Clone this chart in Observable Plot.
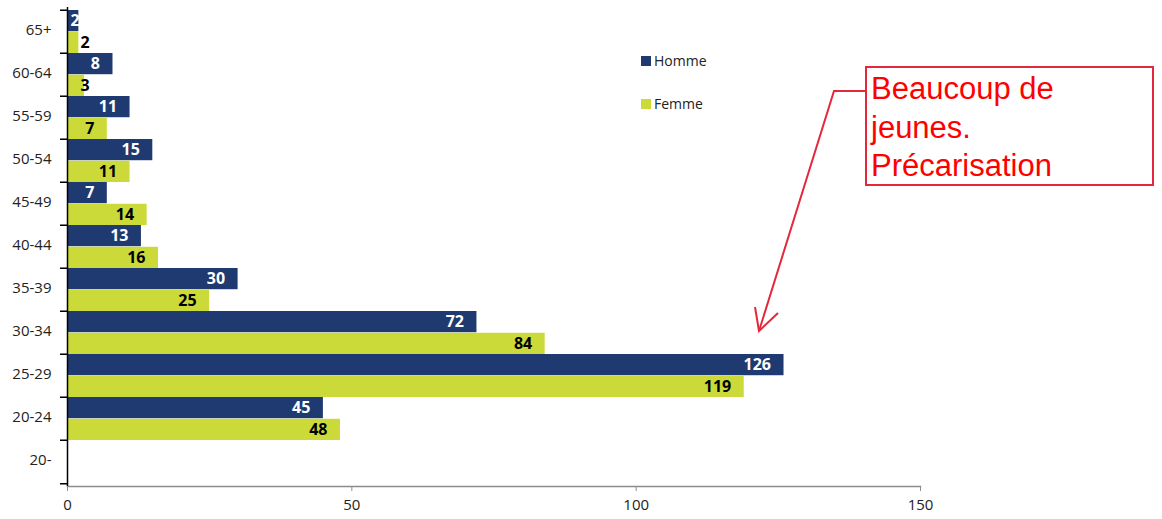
<!DOCTYPE html>
<html>
<head>
<meta charset="utf-8">
<script src="https://cdn.jsdelivr.net/npm/d3@7"></script>
<script src="https://cdn.jsdelivr.net/npm/@observablehq/plot@0.6"></script>
<style>
  html, body { margin: 0; padding: 0; background: #fff; }
  #chart svg { display: block; }
</style>
</head>
<body>
<div id="chart"></div>
<script>
const ages = ["65+","60-64","55-59","50-54","45-49","40-44","35-39","30-34","25-29","20-24","20-"];
const homme = [2, 8, 11, 15, 7, 13, 30, 72, 126, 45, null];
const femme = [2, 3, 7, 11, 14, 16, 25, 84, 119, 48, null];
const xTicks = [0, 50, 100, 150];
const series = ["Homme", "Femme"];
const colors = ["#1f3a70", "#cbda38"];
const note = ["Beaucoup de", "jeunes.", "Précarisation"];

const rowsH = ages.map((a, i) => ({age: a, value: homme[i]})).filter(d => d.value != null);
const rowsF = ages.map((a, i) => ({age: a, value: femme[i]})).filter(d => d.value != null);

const W = 1162, H = 519;
const mTop = 7, mBottom = 33, mLeft = 67, mRight = 242;
const bandH = (H - mTop - mBottom) / ages.length;
const half = bandH / 2;

function annotation() {
  const g = d3.create("svg:g").attr("text-anchor", "start");
  // legend
  series.forEach((s, i) => {
    const yy = 56 + i * 43;
    g.append("rect").attr("x", 641).attr("y", yy).attr("width", 10).attr("height", 10).attr("fill", colors[i]);
    g.append("text").attr("x", 654).attr("y", yy + 5).attr("dy", "0.35em")
      .attr("text-anchor", "start")
      .attr("font-size", 14).attr("fill", "#222").attr("font-family", "Open Sans").text(s);
  });
  // note box
  const red = "#e4283c";
  g.append("rect").attr("x", 866).attr("y", 67).attr("width", 287).attr("height", 118)
    .attr("fill", "white").attr("stroke", red).attr("stroke-width", 2);
  note.forEach((t, i) => {
    g.append("text").attr("x", 871).attr("y", 99 + i * 38.5)
      .attr("text-anchor", "start")
      .attr("font-family", "Liberation Sans, Arial, sans-serif").attr("font-size", 31)
      .attr("fill", "#ff0000").text(t);
  });
  // arrow
  g.append("path").attr("d", "M866,91 L834,91 L759,331")
    .attr("fill", "none").attr("stroke", red).attr("stroke-width", 2);
  g.append("path").attr("d", "M755,307 L759,331 L778,313")
    .attr("fill", "none").attr("stroke", red).attr("stroke-width", 2);
  return g.node();
}

const chart = Plot.plot({
  width: W,
  height: H,
  marginTop: mTop,
  marginBottom: mBottom,
  marginLeft: mLeft,
  marginRight: mRight,
  style: {fontFamily: "Open Sans", background: "white", overflow: "visible"},
  x: {domain: [0, 150], ticks: xTicks, label: null},
  y: {domain: ages, paddingInner: 0, paddingOuter: 0, label: null},
  marks: [
    Plot.barX(rowsH, {x: "value", y: "age", fill: colors[0], insetBottom: half, insetTop: 0}),
    Plot.barX(rowsF, {x: "value", y: "age", fill: colors[1], insetTop: half, insetBottom: 0}),
    // value labels
    Plot.text(rowsH.filter(d => d.value >= 5), {x: "value", y: "age", text: d => String(d.value), textAnchor: "end", dx: -13, dy: -half / 2, fill: "white", fontWeight: "bold", fontSize: 16}),
    Plot.text(rowsH.filter(d => d.value < 5), {x: 0, y: "age", text: d => String(d.value), textAnchor: "start", dx: 3, dy: -half / 2, fill: "white", fontWeight: "bold", fontSize: 16}),
    Plot.text(rowsF.filter(d => d.value >= 5), {x: "value", y: "age", text: d => String(d.value), textAnchor: "end", dx: -13, dy: half / 2, fill: "black", fontWeight: "bold", fontSize: 16}),
    Plot.text(rowsF.filter(d => d.value < 5), {x: 0, y: "age", text: d => String(d.value), textAnchor: "start", dx: 13, dy: half / 2, fill: "black", fontWeight: "bold", fontSize: 16}),
    // axes
    Plot.frame({anchor: "bottom", stroke: "#8c8c8c", strokeWidth: 1.5}),
    Plot.axisX({ticks: xTicks, tickSize: 5, tickPadding: 8, stroke: "#8c8c8c", fill: "#222", fontSize: 15, label: null}),
    Plot.axisY({tickSize: 0, tickPadding: 16, fontSize: 15, fill: "#222", label: null, dy: -2}),
    Plot.axisY({text: null, tickSize: 7, dy: -half, stroke: "black", strokeWidth: 1.5, label: null}),
    Plot.axisY({ticks: [ages[ages.length - 1]], text: null, tickSize: 7, dy: half, stroke: "black", strokeWidth: 1.5, label: null}),
    Plot.ruleX([0], {stroke: "black", strokeWidth: 1.5}),
    annotation
  ]
});
document.getElementById("chart").appendChild(chart);
</script>
</body>
</html>
